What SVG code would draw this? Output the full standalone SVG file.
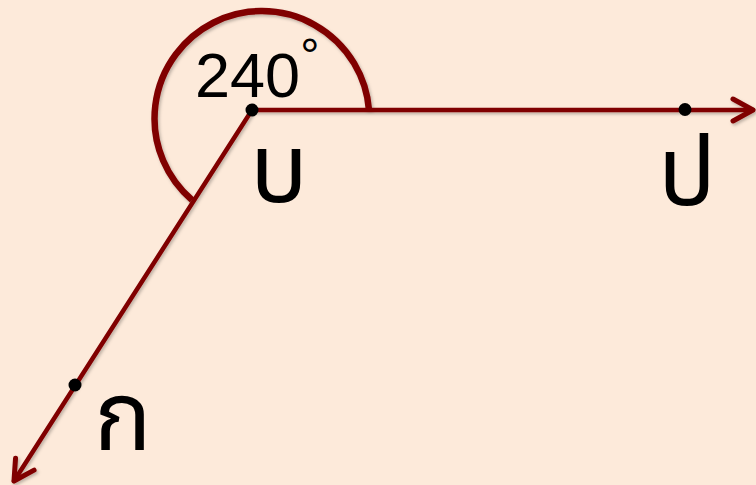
<svg xmlns="http://www.w3.org/2000/svg" width="756" height="485" viewBox="0 0 756 485">
<style>
.ray{stroke:#800000;stroke-width:4.5;fill:none;stroke-linecap:round}
.arc{stroke:#800000;stroke-width:6.5;fill:none}
.pt{fill:#000}
.lbl{font-family:"Liberation Sans",Arial,sans-serif;fill:#000}
.thai{font-family:"Noto Sans Thai","Noto Sans",sans-serif;fill:#000;font-size:96px}
</style>
<defs>
<marker id="arr" markerUnits="userSpaceOnUse" orient="auto" refX="0" refY="0" markerWidth="30" markerHeight="30" overflow="visible">
<path d="M -20 -11 L 0 0 L -20 11" fill="none" stroke="#800000" stroke-width="5" stroke-linecap="round" stroke-linejoin="round"/>
</marker>
<filter id="sh" x="-5%" y="-5%" width="110%" height="110%">
<feDropShadow dx="1.5" dy="2" stdDeviation="1.5" flood-color="#000" flood-opacity="0.25"/>
</filter>
</defs>
<rect width="756" height="485" fill="#FDEADA"/>
<g id="angle-mark" filter="url(#sh)">
<path class="arc" d="M 369 110 A 107.4 107.4 0 1 0 192 200"/>
</g>
<g id="connectors" filter="url(#sh)">
<line class="ray" x1="252" y1="110" x2="753" y2="110" marker-end="url(#arr)"/>
<line class="ray" x1="252" y1="110" x2="14" y2="481" marker-end="url(#arr)"/>
</g>
<g id="angle-label">
<text class="lbl" x="195" y="97" font-size="63">240<tspan font-size="48" dy="-25">°</tspan></text>
</g>
<g id="node-b">
<circle class="pt" cx="252" cy="110" r="6.5"/>
<text class="thai" x="250" y="202">บ</text>
</g>
<g id="node-p">
<circle class="pt" cx="685" cy="109.5" r="6.5"/>
<text class="thai" x="658" y="205">ป</text>
</g>
<g id="node-k">
<circle class="pt" cx="75" cy="385" r="6.5"/>
<text class="thai" x="94" y="450" font-size="82">ก</text>
</g>
</svg>
